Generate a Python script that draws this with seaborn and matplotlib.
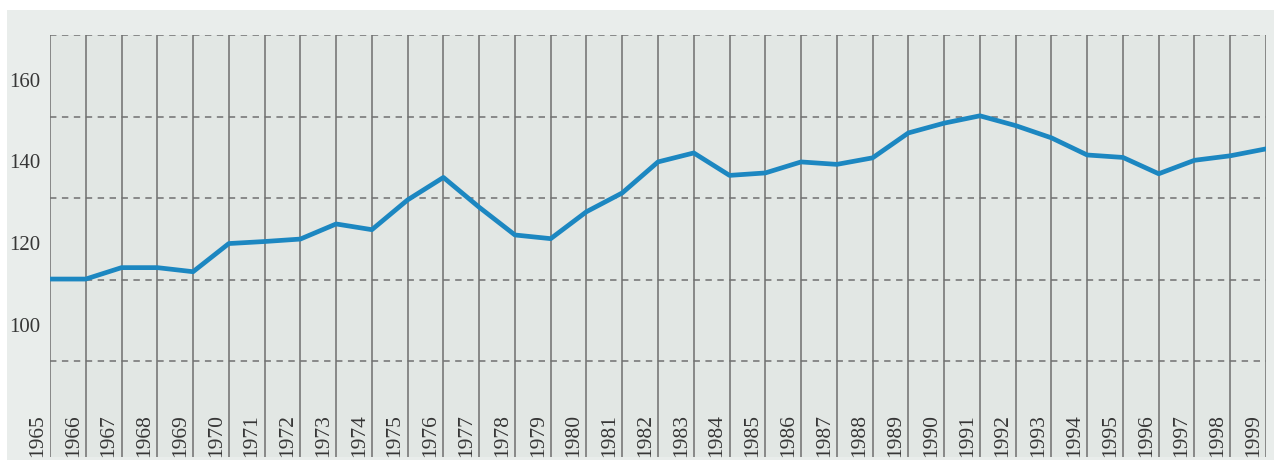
import matplotlib
matplotlib.use("Agg")
import matplotlib.pyplot as plt
import matplotlib.transforms as mtransforms
from matplotlib.patches import Rectangle
import seaborn as sns
import pandas as pd

years = list(range(1965, 2000))
values = [110.2, 110.2, 113.0, 113.0, 112.0, 118.9, 119.4, 120.0, 123.7, 122.3,
          129.6, 135.1, 127.8, 121.0, 120.1, 126.7, 131.3, 138.9, 141.1, 135.6,
          136.2, 138.9, 138.3, 139.9, 146.0, 148.4, 150.2, 147.8, 144.8, 140.6,
          140.0, 136.0, 139.3, 140.4, 142.1]
ytick_values = [100, 120, 140, 160]
ytick_labels = ["100", "120", "140", "160"]
ygrid_values = [90, 110, 130, 150, 170]

df = pd.DataFrame({"year": years, "value": values})

sns.set_theme(style="white")
plt.rcParams["font.family"] = ["Liberation Serif", "DejaVu Serif"]

W, H = 1274, 469
fig = plt.figure(figsize=(W / 100, H / 100), dpi=100)
fig.patch.set_facecolor("white")
bg = Rectangle((7 / W, 1 - 460 / H), 1 - 7 / W, (460 - 10) / H,
               transform=fig.transFigure, facecolor="#e9edeb",
               edgecolor="none", zorder=-10)
fig.add_artist(bg)

ax = fig.add_axes([50 / W, 1 - 457 / H, (1266 - 50) / W, (457 - 35) / H])
ax.set_zorder(1)
ax.set_facecolor("#e2e7e4")

sns.lineplot(data=df, x="year", y="value", ax=ax, color="#1c87c1",
             linewidth=3.4, zorder=5)

ax.set_xlim(1965, 1999)
ax.set_ylim(66.6, 170)

ax.set_xticks(years)
ax.set_xticklabels([])
ax.tick_params(axis="x", length=0)
ax.set_yticks(ytick_values)
ax.set_yticklabels(ytick_labels)
ax.set_yticks(ygrid_values, minor=True)
ax.tick_params(axis="y", which="both", length=0, pad=7, labelsize=15,
               labelcolor="#363636")

ax.grid(axis="x", which="major", color="#6e6e6e", linewidth=1.1, linestyle="-")
ax.grid(axis="y", which="minor", color="#707070", linewidth=1.1,
        linestyle=(0, (4.2, 3.6)))
ax.grid(axis="y", which="major", visible=False)
ax.set_axisbelow(True)

off = mtransforms.ScaledTranslation(0, -4 / 100, fig.dpi_scale_trans)
for lab in ax.get_yticklabels():
    lab.set_transform(lab.get_transform() + off)

for s in ax.spines.values():
    s.set_visible(False)

ax.set_xlabel("")
ax.set_ylabel("")

trans = mtransforms.blended_transform_factory(ax.transData, ax.transAxes)
shift = mtransforms.ScaledTranslation(-3 / 100, 0, fig.dpi_scale_trans)
for yr in years:
    ax.text(yr, 0.0, str(yr), transform=trans + shift, rotation=90,
            ha="right", va="bottom", fontsize=15.5, color="#363636", zorder=6)

fig.savefig("out.png", dpi=100, facecolor=fig.get_facecolor())
